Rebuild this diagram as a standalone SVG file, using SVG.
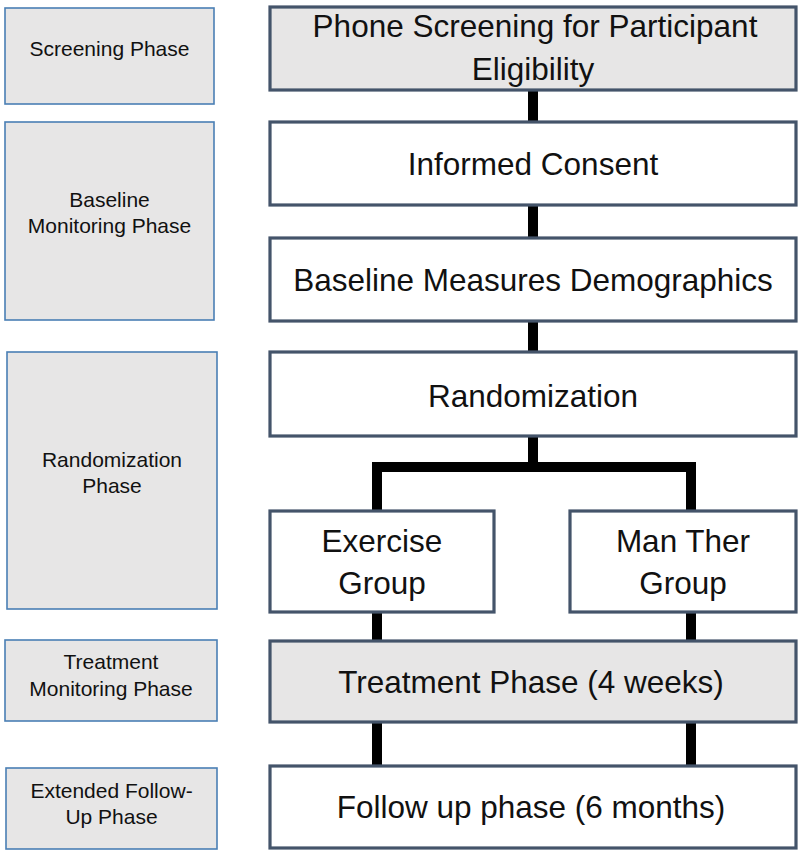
<svg xmlns="http://www.w3.org/2000/svg" width="800" height="855" viewBox="0 0 800 855">
<style>
.side{fill:#e7e6e6;stroke:#4a7fb5;stroke-width:1.6}
.main{fill:#ffffff;stroke:#44546a;stroke-width:3.2}
.grey{fill:#e7e6e6}
.st{font-family:"Liberation Sans",Arial,sans-serif;font-size:21px;fill:#111;text-anchor:middle}
.mt{font-family:"Liberation Sans",Arial,sans-serif;font-size:31.5px;fill:#111;text-anchor:middle}
.con{stroke:#000;stroke-width:10;fill:none;stroke-linecap:butt}
</style>
<rect width="800" height="855" fill="#ffffff"/>
<g id="connectors">
<line class="con" x1="533" y1="90" x2="533" y2="122"/>
<line class="con" x1="533" y1="205" x2="533" y2="238"/>
<line class="con" x1="533" y1="321" x2="533" y2="352"/>
<line class="con" x1="533" y1="436" x2="533" y2="467"/>
<polyline class="con" points="377,511 377,467 691,467 691,511"/>
<line class="con" x1="377" y1="612" x2="377" y2="641"/>
<line class="con" x1="691" y1="612" x2="691" y2="641"/>
<line class="con" x1="377" y1="722" x2="377" y2="766"/>
<line class="con" x1="691" y1="722" x2="691" y2="766"/>
</g>
<g id="screening-phase">
<rect class="side" x="5" y="8" width="209" height="96"/>
<text class="st" x="109.5" y="56">Screening Phase</text>
</g>
<g id="baseline-phase">
<rect class="side" x="5" y="122" width="209" height="198"/>
<text class="st" x="109.5" y="207">Baseline</text>
<text class="st" x="109.5" y="233">Monitoring Phase</text>
</g>
<g id="randomization-phase">
<rect class="side" x="7" y="352" width="210" height="257"/>
<text class="st" x="112" y="467">Randomization</text>
<text class="st" x="112" y="493">Phase</text>
</g>
<g id="treatment-monitoring-phase">
<rect class="side" x="5" y="640" width="212" height="81"/>
<text class="st" x="111" y="669">Treatment</text>
<text class="st" x="111" y="696">Monitoring Phase</text>
</g>
<g id="followup-phase">
<rect class="side" x="6" y="768" width="211" height="81"/>
<text class="st" x="111.5" y="798">Extended Follow-</text>
<text class="st" x="111.5" y="824">Up Phase</text>
</g>
<g id="phone-screening">
<rect class="main grey" x="270" y="7" width="526" height="83"/>
<text class="mt" x="535" y="37">Phone Screening for Participant</text>
<text class="mt" x="533" y="80">Eligibility</text>
</g>
<g id="informed-consent">
<rect class="main" x="270" y="122" width="526" height="83"/>
<text class="mt" x="533" y="175">Informed Consent</text>
</g>
<g id="baseline-measures">
<rect class="main" x="270" y="238" width="526" height="83"/>
<text class="mt" x="533" y="291">Baseline Measures Demographics</text>
</g>
<g id="randomization">
<rect class="main" x="270" y="352" width="526" height="84"/>
<text class="mt" x="533" y="407">Randomization</text>
</g>
<g id="exercise-group">
<rect class="main" x="270" y="511" width="224" height="101"/>
<text class="mt" x="382" y="552">Exercise</text>
<text class="mt" x="382" y="594">Group</text>
</g>
<g id="manther-group">
<rect class="main" x="570" y="511" width="226" height="101"/>
<text class="mt" x="683" y="552">Man Ther</text>
<text class="mt" x="683" y="594">Group</text>
</g>
<g id="treatment-phase">
<rect class="main grey" x="270" y="641" width="526" height="81"/>
<text class="mt" x="531" y="693">Treatment Phase (4 weeks)</text>
</g>
<g id="followup">
<rect class="main" x="270" y="766" width="526" height="82"/>
<text class="mt" x="531" y="818">Follow up phase (6 months)</text>
</g>
</svg>
